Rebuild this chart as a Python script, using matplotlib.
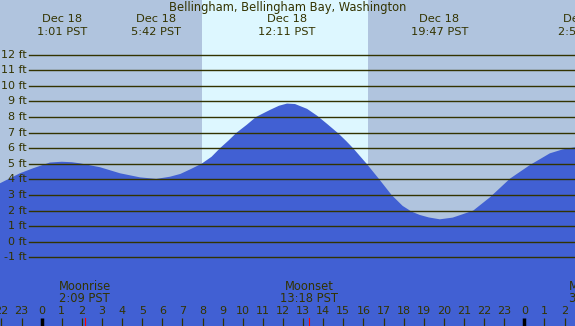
import matplotlib.pyplot as plt
import matplotlib.transforms as mtransforms

# Tide height readings (hours from midnight Dec 18, feet)
hours = [-2.07, -1.08, -0.43, 0.41, 1.0, 1.5, 1.9, 2.9, 3.9, 4.89, 5.7, 6.38,
         6.9, 7.4, 7.95, 8.45, 8.87, 9.3, 9.7, 10.2, 10.66, 11.35, 11.8, 12.2,
         12.6, 13.2, 13.7, 14.2, 14.75, 15.15, 15.5, 16.16, 16.79, 17.4, 17.95,
         18.4, 18.8, 19.25, 19.8, 20.44, 20.9, 21.46, 22.29, 23.29, 24.28, 25.27,
         25.9, 26.52]
heights = [3.75, 4.39, 4.71, 5.08, 5.13, 5.1, 5.03, 4.78, 4.39, 4.13, 4.03, 4.17,
           4.35, 4.65, 5.0, 5.45, 6.0, 6.5, 7.0, 7.5, 8.0, 8.45, 8.72, 8.86,
           8.83, 8.52, 8.08, 7.55, 6.95, 6.45, 5.98, 5.0, 4.0, 3.0, 2.3,
           1.93, 1.72, 1.56, 1.44, 1.55, 1.75, 2.0, 2.85, 4.05, 4.92, 5.67,
           5.92, 6.06]

# Tide extremes shown along the top
extreme_hours = [1.02, 5.7, 12.18, 19.78, 26.92]
extreme_dates = ["Dec 18", "Dec 18", "Dec 18", "Dec 18", "Dec 19"]
extreme_times = ["1:01 PST", "5:42 PST", "12:11 PST", "19:47 PST", "2:55 PST"]

# Moon events along the bottom
moon_hours = [2.15, 13.3, 27.5]
moon_names = ["Moonrise", "Moonset", "Moonrise"]
moon_times = ["2:09 PST", "13:18 PST", "3:30 PST"]

sunrise = 7.97
sunset = 16.22

ft_levels = list(range(-1, 13))
hour_ticks = list(range(-2, 27))

title = "Bellingham, Bellingham Bay, Washington"

night = "#B0C4DE"
day = "#DDF7FF"
water = "#4160D3"
ink = "#333300"

fig = plt.figure(figsize=(5.75, 3.26), dpi=100)
ax = fig.add_axes([0, 0, 1, 1])
ax.set_xlim(-2.07, 26.52)
ax.set_ylim(-5.40, 15.50)
ax.set_facecolor(night)
for s in ax.spines.values():
    s.set_visible(False)
ax.set_xticks([])
ax.set_yticks([])

ax.axvspan(sunrise, sunset, color=day, lw=0, zorder=1)
ax.fill_between(hours, heights, -10, color=water, lw=0, zorder=2)

ty = mtransforms.blended_transform_factory(ax.transAxes, ax.transData)
tx = mtransforms.blended_transform_factory(ax.transData, ax.transAxes)

for ft in ft_levels:
    ax.axhline(ft, xmin=29 / 575, xmax=1, color=ink, lw=1.0, zorder=3)
    ax.text(27 / 575, ft, f"{ft} ft", transform=ty, ha="right", va="center",
            fontsize=8, color=ink, zorder=4)

def ypix(p):
    return 1 - p / 326

ax.text(0.5, ypix(7), title, transform=ax.transAxes, ha="center", va="center",
        fontsize=8.3, color=ink)
for h, d, t in zip(extreme_hours, extreme_dates, extreme_times):
    ax.text(h, ypix(19), d, transform=tx, ha="center", va="center", fontsize=8.2, color=ink)
    ax.text(h, ypix(32), t, transform=tx, ha="center", va="center", fontsize=8.2, color=ink)

for h, n, t in zip(moon_hours, moon_names, moon_times):
    ax.text(h, ypix(287), n, transform=tx, ha="center", va="center", fontsize=8.3, color=ink)
    ax.text(h, ypix(299), t, transform=tx, ha="center", va="center", fontsize=8.3, color=ink)
    ax.plot([h, h], [ypix(318), 0], transform=tx, color="red", lw=0.8, zorder=5)

for h in hour_ticks:
    ax.text(h, ypix(311), str(h % 24), transform=tx, ha="center", va="center",
            fontsize=8, color=ink)
    thick = h % 24 == 0
    ax.plot([h, h], [ypix(318), 0], transform=tx, color="black" if thick else ink,
            lw=2.5 if thick else 0.9, zorder=5, solid_capstyle="butt")

fig.savefig("out.png", dpi=100)
